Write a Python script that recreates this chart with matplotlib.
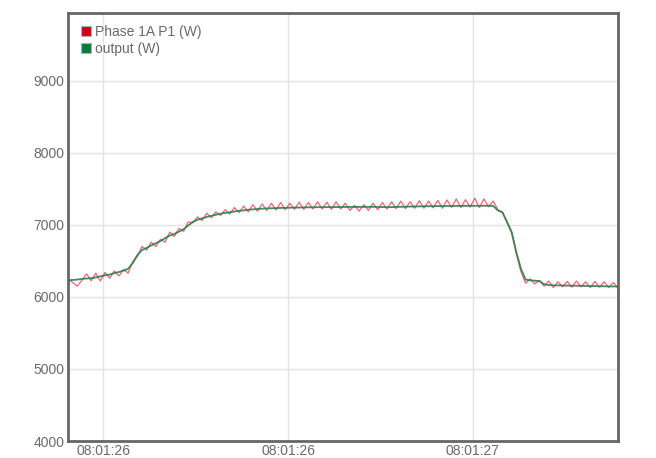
import numpy as np
import matplotlib
matplotlib.use("Agg")
import matplotlib.pyplot as plt
from matplotlib.patches import Patch

plt.rcParams['font.family'] = ['Liberation Sans', 'DejaVu Sans']

# time axis: seconds past 08:01:00, one sample every 12.5 ms
t_start = 25.905
t_step = 0.0125

phase_1a = [
    6260, 6200, 6150, 6230, 6320, 6225, 6330, 6220, 6340, 6260,
    6360, 6290, 6380, 6330, 6490, 6560, 6700, 6650, 6760, 6700,
    6800, 6760, 6900, 6840, 6950, 6910, 7040, 7030, 7110, 7060,
    7160, 7100, 7180, 7130, 7210, 7150, 7240, 7170, 7260, 7180,
    7280, 7190, 7290, 7200, 7300, 7205, 7310, 7210, 7300, 7215,
    7315, 7215, 7310, 7220, 7320, 7220, 7315, 7215, 7320, 7220,
    7300, 7200, 7270, 7190, 7280, 7200, 7300, 7210, 7310, 7220,
    7320, 7225, 7330, 7225, 7320, 7230, 7335, 7230, 7330, 7235,
    7340, 7230, 7345, 7240, 7360, 7240, 7350, 7245, 7370, 7240,
    7360, 7250, 7330, 7210, 7180, 7030, 6880, 6600, 6350, 6190,
    6250, 6180, 6230, 6150, 6220, 6130, 6210, 6140, 6215, 6135,
    6220, 6140, 6210, 6130, 6215, 6135, 6210, 6130, 6200, 6120,
]

output = [
    6230, 6235, 6240, 6250, 6255, 6260, 6270, 6285, 6300, 6310,
    6330, 6345, 6365, 6390, 6470, 6580, 6650, 6680, 6715, 6745,
    6775, 6815, 6850, 6875, 6905, 6940, 6990, 7040, 7070, 7090,
    7110, 7125, 7140, 7155, 7165, 7175, 7185, 7195, 7200, 7210,
    7215, 7220, 7225, 7228, 7230, 7232, 7235, 7236, 7238, 7240,
    7240, 7242, 7243, 7244, 7245, 7245, 7246, 7246, 7247, 7247,
    7248, 7248, 7248, 7249, 7249, 7250, 7250, 7248, 7246, 7245,
    7246, 7248, 7250, 7252, 7254, 7255, 7256, 7258, 7258, 7259,
    7260, 7260, 7261, 7262, 7262, 7263, 7263, 7264, 7264, 7264,
    7265, 7265, 7262, 7200, 7170, 7040, 6900, 6620, 6390, 6240,
    6230, 6225, 6220, 6175, 6165, 6160, 6160, 6158, 6157, 6155,
    6155, 6153, 6152, 6150, 6150, 6148, 6147, 6146, 6145, 6143,
]

tick_pos = [26.0, 26.5, 27.0]
tick_labels = ['08:01:26', '08:01:26', '08:01:27']
y_ticks = [4000, 5000, 6000, 7000, 8000, 9000]

t = t_start + t_step * np.arange(len(phase_1a))

fig = plt.figure(figsize=(6.56, 4.58), dpi=100)
ax = fig.add_axes([0.1037, 0.0371, 0.8384, 0.9345])

ax.plot(t, phase_1a, color='#ec4a5e', lw=0.9, alpha=0.85, zorder=3)
ax.plot(t, output, color='#2f7d4f', lw=1.3, alpha=0.9, zorder=4)

ax.set_xlim(t[0], t[-1])
ax.set_ylim(4000, 9940)
ax.set_xticks(tick_pos)
ax.set_xticklabels(tick_labels)
ax.set_yticks(y_ticks)
ax.grid(True, color='#e2e2e2', lw=1)
ax.set_axisbelow(True)
ax.tick_params(length=0, labelsize=10, labelcolor='#6a6a6a')
ax.tick_params(axis='y', pad=2.5)
ax.tick_params(axis='x', pad=2.5)
for s in ax.spines.values():
    s.set_color('#666666')
    s.set_linewidth(2)

handles = [Patch(facecolor='#d0021b', edgecolor='#b0b0b0', lw=0.8),
           Patch(facecolor='#0a7a3c', edgecolor='#b0b0b0', lw=0.8)]
ax.legend(handles, ['Phase 1A P1 (W)', 'output (W)'], loc='upper left',
          bbox_to_anchor=(0.0236, 0.972),
          frameon=False, fontsize=10, labelcolor='#6a6a6a',
          handlelength=0.72, handleheight=0.72, handletextpad=0.3,
          labelspacing=0.22, borderaxespad=0, borderpad=0)

fig.savefig('out.png', dpi=100)
